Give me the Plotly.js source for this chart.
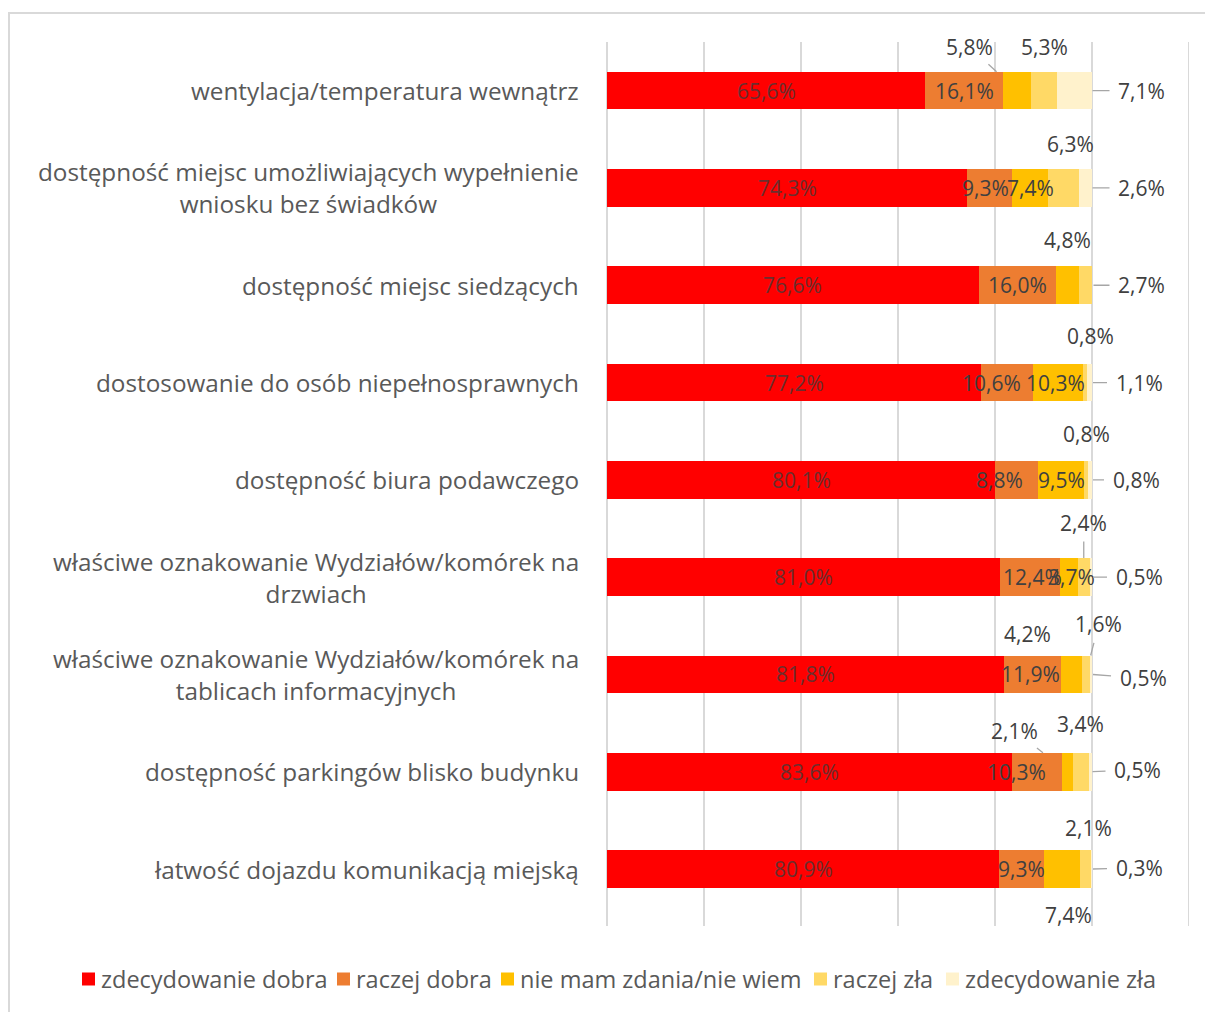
<!DOCTYPE html>
<html>
<head>
<meta charset="utf-8">
<script src="https://cdn.plot.ly/plotly-3.0.1.min.js"></script>
<style>
  html, body { margin: 0; padding: 0; background: #fff; overflow: hidden; }
  #chart { width: 1205px; height: 1012px; }
</style>
</head>
<body>
<div id="chart"></div>
<script>
// ---------- DATA ----------
const categories = [
  "wentylacja/temperatura wewnątrz",
  "dostępność miejsc umożliwiających wypełnienie<br>wniosku bez świadków",
  "dostępność miejsc siedzących",
  "dostosowanie do osób niepełnosprawnych",
  "dostępność biura podawczego",
  "właściwe oznakowanie Wydziałów/komórek na<br>drzwiach",
  "właściwe oznakowanie Wydziałów/komórek na<br>tablicach informacyjnych",
  "dostępność parkingów blisko budynku",
  "łatwość dojazdu komunikacją miejską"
];
const seriesNames = ["zdecydowanie dobra", "raczej dobra", "nie mam zdania/nie wiem", "raczej zła", "zdecydowanie zła"];
const zdecydowanieDobra = [65.6, 74.3, 76.6, 77.2, 80.1, 81.0, 81.8, 83.6, 80.9];
const raczejDobra       = [16.1,  9.3, 16.0, 10.6,  8.8, 12.4, 11.9, 10.3,  9.3];
const nieMamZdania      = [ 5.8,  7.4,  4.8, 10.3,  9.5,  3.7,  4.2,  2.1,  7.4];
const raczejZla         = [ 5.3,  6.3,  2.7,  0.8,  0.8,  2.4,  1.6,  3.4,  2.1];
const zdecydowanieZla   = [ 7.1,  2.6, null,  1.1,  0.8,  0.5,  0.5,  0.5,  0.3];

// ---------- STYLE ----------
const colors = ["#FF0000", "#ED7D31", "#FFC000", "#FFD966", "#FFF2CC"];
const FONT = "'Open Sans', 'DejaVu Sans', sans-serif";
const W = 1205, H = 1012;
const M = { l: 607, r: 16, t: 42, b: 86 };
const plotW = W - M.l - M.r, plotH = H - M.t - M.b;
const px2x = p => (p - M.l) / plotW;          // pixel -> paper x
const px2y = p => (H - M.b - p) / plotH;      // pixel -> paper y

// label placement per series/row: ['in', dx] | ['out', dx, dy, leader] | ['end', dx, dy]
const place = [
  Array(9).fill(['in', 0]),
  [['in',0],['in',-4],['in',0],['in',-16],['in',-17],['in',3],['in',-2],['in',-21],['in',0]],
  [['out',-48,-44,true],['in',0],['out',0,-45,false],['in',-2],['in',0],['in',3],['out',-44,-40,false],['out',-53,-41,true],['out',6,46,false]],
  [['out',0,-44,false],['out',7,-44,false],['end',49,0],['out',6,-47,false],['out',0,-46,false],['out',0,-54,true],['out',13,-50,true],['out',0,-48,false],['out',3,-41,false]],
  [['end',50,0],['end',50,0],null,['end',47,0],['end',44,0],['end',47,0],['end',51,4],['end',46,-2],['end',47,-1]]
];

const series = [zdecydowanieDobra, raczejDobra, nieMamZdania, raczejZla, zdecydowanieZla];
const fmt = v => v.toFixed(1).replace('.', ',') + '%';

const traces = series.map((vals, s) => ({
  type: 'bar',
  orientation: 'h',
  name: seriesNames[s],
  y: categories,
  x: vals,
  marker: { color: colors[s], line: { width: 0 } },
  hoverinfo: 'x+y+name',
  showlegend: false
}));

const annotations = [];
const BAR_HALF = 19;

// category labels
categories.forEach(c => {
  annotations.push({
    xref: 'paper', x: 0, xshift: -26, xanchor: 'right',
    yref: 'y', y: c, yanchor: 'middle', align: 'center',
    text: c, showarrow: false,
    font: { family: FONT, size: 24.3, color: '#595959' }
  });
});

// data labels
categories.forEach((c, r) => {
  let cum = 0;
  const total = series.reduce((a, v) => a + (v[r] || 0), 0);
  series.forEach((vals, s) => {
    const v = vals[r];
    if (v === null || v === undefined) return;
    const mid = cum + v / 2;
    cum += v;
    const p = place[s][r];
    if (!p) return;
    const font = { family: FONT, size: 21, color: s === 0 ? '#6b2e2e' : '#404040' };
    if (p[0] === 'in') {
      annotations.push({ xref: 'x', x: mid, yref: 'y', y: c, xshift: p[1], text: fmt(v), showarrow: false, font });
    } else if (p[0] === 'out') {
      const [, dx, dy, leader] = p;
      if (leader) {
        const len = Math.sqrt(dx * dx + dy * dy);
        annotations.push({ xref: 'x', x: mid, yref: 'y', y: c, ax: dx, ay: dy, text: fmt(v),
          showarrow: true, arrowhead: 0, arrowwidth: 1.3, arrowcolor: '#a6a6a6',
          standoff: BAR_HALF * len / Math.abs(dy), startstandoff: 3, font });
      } else {
        annotations.push({ xref: 'x', x: mid, yref: 'y', y: c, xshift: dx, yshift: -dy, text: fmt(v), showarrow: false, font });
      }
    } else if (p[0] === 'end') {
      annotations.push({ xref: 'x', x: total, yref: 'y', y: c, ax: p[1], ay: p[2], text: fmt(v),
        showarrow: true, arrowhead: 0, arrowwidth: 1.3, arrowcolor: '#a6a6a6', standoff: 1, startstandoff: 7, font });
    }
  });
});

// manual legend
const legendX = [82, 337, 501, 814, 946];
const legendY = 979;
const shapes = [];
seriesNames.forEach((n, i) => {
  shapes.push({ type: 'rect', xref: 'paper', yref: 'paper',
    x0: px2x(legendX[i]), x1: px2x(legendX[i] + 13),
    y0: px2y(legendY + 6.5), y1: px2y(legendY - 6.5),
    fillcolor: colors[i], line: { width: 0 } });
  annotations.push({ xref: 'paper', yref: 'paper', x: px2x(legendX[i] + 17), y: px2y(legendY),
    xanchor: 'left', yanchor: 'middle', text: n, showarrow: false,
    font: { family: FONT, size: 23.5, color: '#595959' } });
});
// right-most gridline (at axis max)
shapes.push({ type: 'line', xref: 'x', yref: 'paper', x0: 120, x1: 120, y0: 0, y1: 1,
  line: { color: '#d9d9d9', width: 2 }, layer: 'below' });
// outer frame
shapes.push({ type: 'rect', xref: 'paper', yref: 'paper',
  x0: px2x(9), x1: px2x(1230), y0: px2y(1040), y1: px2y(13),
  line: { color: '#d9d9d9', width: 2 }, fillcolor: 'rgba(0,0,0,0)', layer: 'below' });

const layout = {
  width: W, height: H,
  margin: M,
  paper_bgcolor: '#ffffff', plot_bgcolor: '#ffffff',
  barmode: 'stack',
  bargap: 0.613,
  showlegend: false,
  xaxis: {
    range: [0, 120], dtick: 20, tick0: 0,
    showticklabels: false, ticks: '',
    showgrid: true, gridcolor: '#d9d9d9', gridwidth: 2,
    zeroline: true, zerolinecolor: '#d9d9d9', zerolinewidth: 2,
    showline: false, fixedrange: true
  },
  yaxis: {
    type: 'category', autorange: 'reversed',
    showticklabels: false, ticks: '', showgrid: false, zeroline: false, showline: false,
    fixedrange: true
  },
  annotations, shapes,
  font: { family: FONT, color: '#595959' }
};

Plotly.newPlot('chart', traces, layout, { displayModeBar: false, staticPlot: true });
</script>
</body>
</html>
